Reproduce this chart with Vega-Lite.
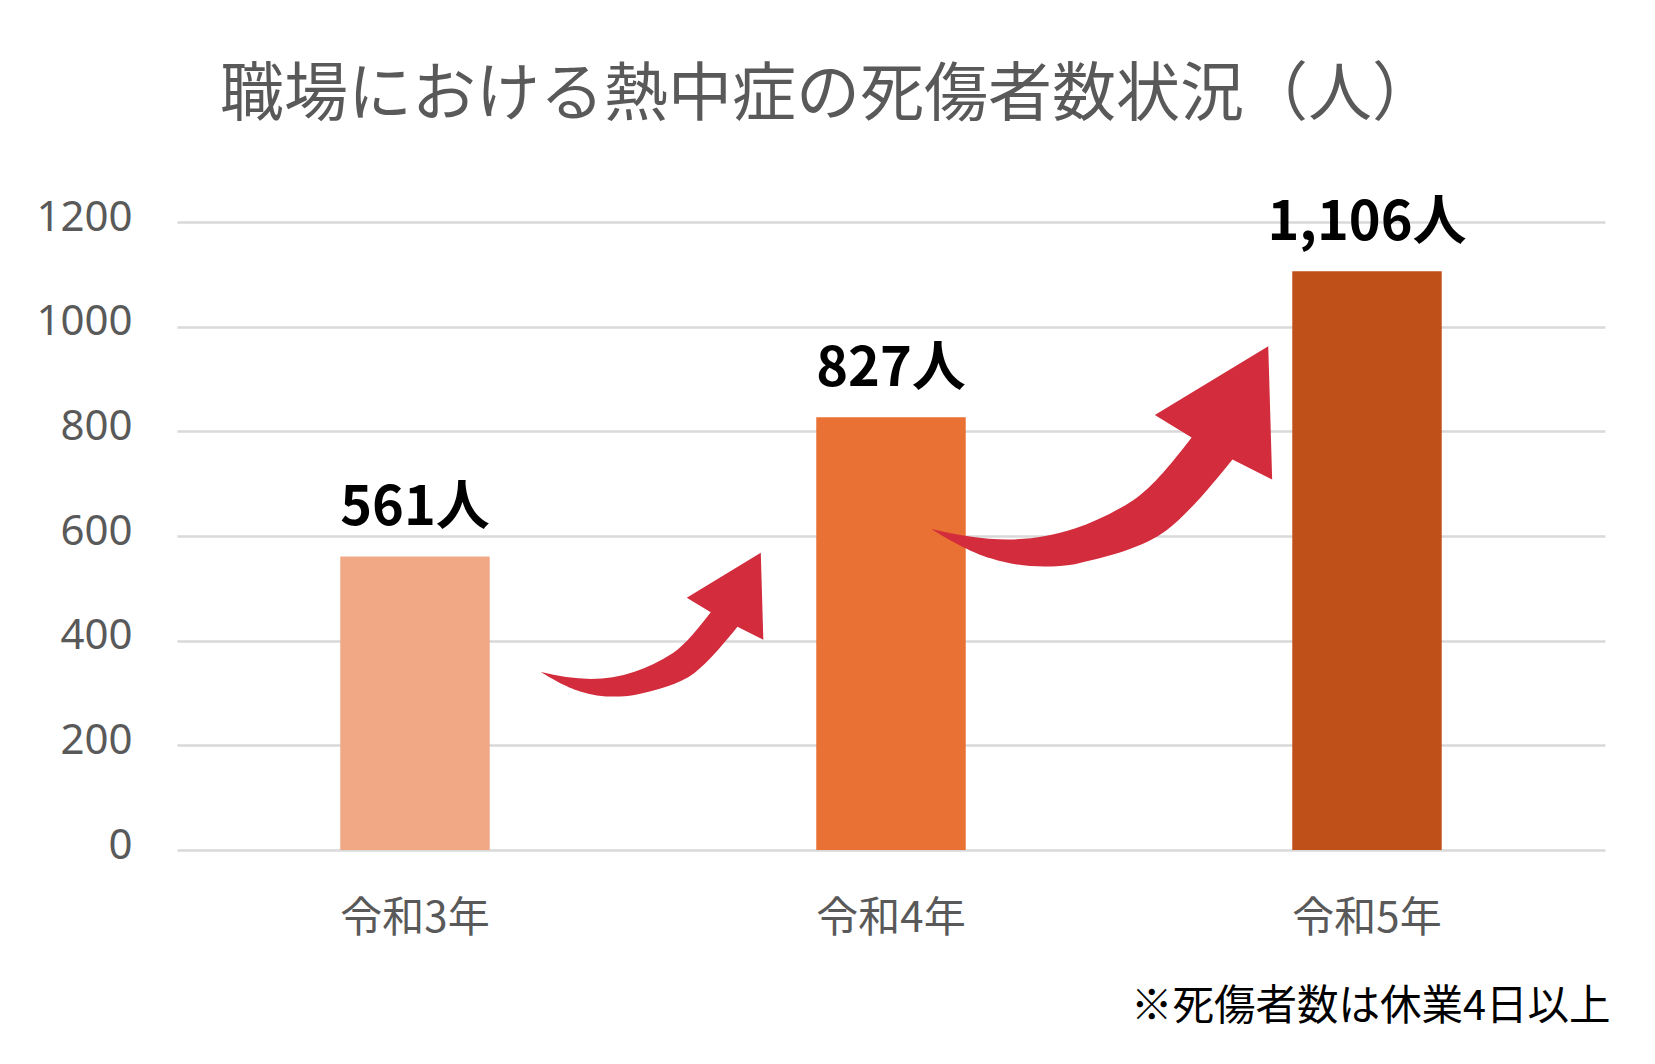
{
  "$schema": "https://vega.github.io/schema/vega-lite/v6.json",
  "width": 1428,
  "height": 628,
  "autosize": "none",
  "padding": {"left": 177, "top": 222, "right": 50, "bottom": 214},
  "background": "white",
  "title": {
    "text": "職場における熱中症の死傷者数状況（人）",
    "font": "Noto Sans CJK JP",
    "fontSize": 64,
    "fontWeight": "normal",
    "color": "#595959",
    "anchor": "middle",
    "frame": "group",
    "baseline": "alphabetic",
    "offset": 17,
    "dx": -63
  },
  "config": {
    "view": {"stroke": null},
    "axisY": {
      "grid": true,
      "gridColor": "#d9d9d9",
      "gridWidth": 2.5,
      "domain": false,
      "ticks": false,
      "tickSize": 0,
      "labelFont": "Noto Sans",
      "labelFontSize": 42,
      "labelColor": "#595959",
      "labelPadding": 45,
      "labelOffset": -5,
      "labelBaseline": "middle"
    },
    "axisX": {
      "grid": false,
      "domain": false,
      "ticks": false,
      "tickSize": 0,
      "labelFont": "Noto Sans CJK JP",
      "labelFontSize": 42,
      "labelColor": "#595959",
      "labelPadding": 48,
      "labelAngle": 0,
      "titleFont": "Noto Sans CJK JP",
      "titleFontSize": 41.5,
      "titleFontWeight": "normal",
      "titleColor": "#000000",
      "titleAnchor": "end",
      "titleAlign": "right",
      "titleX": 1433,
      "titlePadding": 47
    }
  },
  "resolve": {"scale": {"x": "independent"}},
  "layer": [
    {
      "data": {
        "values": [
          {"year": "令和3年", "count": 561, "label": "561人"},
          {"year": "令和4年", "count": 827, "label": "827人"},
          {"year": "令和5年", "count": 1106, "label": "1,106人"}
        ]
      },
      "encoding": {
        "x": {
          "field": "year",
          "type": "nominal",
          "sort": null,
          "scale": {"paddingInner": 0.686, "paddingOuter": 0.343},
          "axis": {"title": "※死傷者数は休業4日以上"}
        },
        "y": {
          "field": "count",
          "type": "quantitative",
          "title": null,
          "scale": {"domain": [0, 1200], "nice": false},
          "axis": {"values": [0, 200, 400, 600, 800, 1000, 1200], "format": "d"}
        }
      },
      "layer": [
        {
          "mark": {"type": "bar"},
          "encoding": {
            "color": {
              "field": "year",
              "type": "nominal",
              "legend": null,
              "scale": {
                "domain": ["令和3年", "令和4年", "令和5年"],
                "range": ["#f1a985", "#e87133", "#c0501a"]
              }
            }
          }
        },
        {
          "mark": {
            "type": "text",
            "baseline": "alphabetic",
            "align": "center",
            "dy": -31,
            "font": "Noto Sans CJK JP",
            "fontSize": 54,
            "fontWeight": "bold",
            "color": "#000000"
          },
          "encoding": {"text": {"field": "label", "type": "nominal"}}
        }
      ]
    },
    {
      "data": {"values": [{"pos": 0.9983, "level": 430.7}]},
      "mark": {
        "type": "point",
        "shape": "M -1 0.427 C -0.85 0.462 -0.7 0.489 -0.55 0.489 C -0.42 0.489 -0.289 0.469 -0.159 0.425 C -0.045 0.386 0.07 0.332 0.184 0.258 C 0.298 0.184 0.427 0.02 0.527 -0.11 L 0.311 -0.242 L 0.977 -0.646 L 1 0.137 L 0.767 0.019 C 0.67 0.14 0.51 0.335 0.38 0.435 C 0.25 0.535 0.03 0.592 -0.159 0.634 C -0.32 0.66 -0.5 0.65 -0.648 0.601 C -0.768 0.568 -0.94 0.467 -1 0.427 Z",
        "filled": true,
        "opacity": 1,
        "color": "#d32c3c",
        "strokeWidth": 0,
        "size": 49417
      },
      "encoding": {
        "x": {"field": "pos", "type": "quantitative", "scale": {"domain": [0, 3], "nice": false, "zero": false}, "axis": null},
        "y": {"field": "level", "type": "quantitative", "title": null, "axis": {"values": [0, 200, 400, 600, 800, 1000, 1200], "format": "d"}}
      }
    },
    {
      "data": {"values": [{"pos": 1.943, "level": 752.5}]},
      "mark": {
        "type": "point",
        "shape": "M -1 0.427 C -0.85 0.462 -0.7 0.489 -0.55 0.489 C -0.42 0.489 -0.289 0.469 -0.159 0.425 C -0.045 0.386 0.07 0.332 0.184 0.258 C 0.298 0.184 0.427 0.02 0.527 -0.11 L 0.311 -0.242 L 0.977 -0.646 L 1 0.137 L 0.767 0.019 C 0.67 0.14 0.51 0.335 0.38 0.435 C 0.25 0.535 0.03 0.592 -0.159 0.634 C -0.32 0.66 -0.5 0.65 -0.648 0.601 C -0.768 0.568 -0.94 0.467 -1 0.427 Z",
        "filled": true,
        "opacity": 1,
        "color": "#d32c3c",
        "strokeWidth": 0,
        "size": 116008
      },
      "encoding": {
        "x": {"field": "pos", "type": "quantitative", "scale": {"domain": [0, 3], "nice": false, "zero": false}, "axis": null},
        "y": {"field": "level", "type": "quantitative", "title": null, "axis": {"values": [0, 200, 400, 600, 800, 1000, 1200], "format": "d"}}
      }
    }
  ]
}
